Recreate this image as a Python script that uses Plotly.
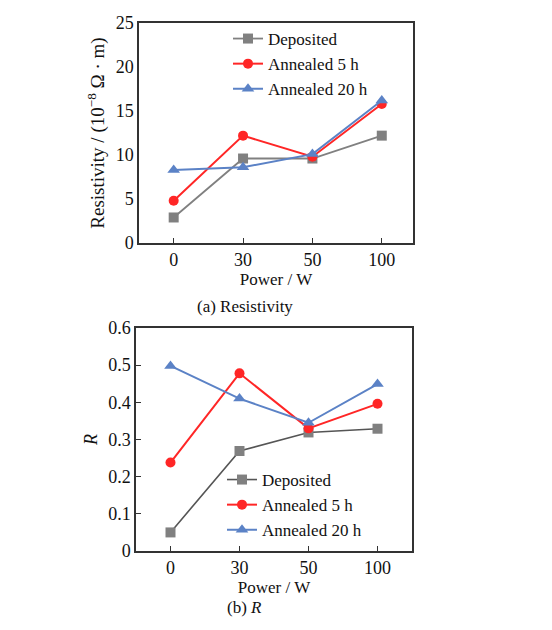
import plotly.graph_objects as go

power = ["0", "30", "50", "100"]
series_names = ["Deposited", "Annealed 5 h", "Annealed 20 h"]
resistivity_dep = [2.9, 9.6, 9.6, 12.2]
resistivity_5h = [4.8, 12.2, 9.8, 15.8]
resistivity_20h = [8.3, 8.6, 10.1, 16.2]
r_dep = [0.05, 0.269, 0.319, 0.329]
r_5h = [0.238, 0.478, 0.330, 0.396]
r_20h = [0.498, 0.410, 0.345, 0.449]
res_ticks = [0, 5, 10, 15, 20, 25]
r_ticks = [0, 0.1, 0.2, 0.3, 0.4, 0.5, 0.6]
r_tick_text = ["0", "0.1", "0.2", "0.3", "0.4", "0.5", "0.6"]

FONT = "Liberation Serif"
GRAY = "#808080"
RED = "#ff2626"
BLUE = "#5b82c6"

W, H = 552, 630
fig = go.Figure()

def add(y, name, color, sym, xa, ya, leg, line_color=None, lw=2):
    fig.add_trace(go.Scatter(
        x=power, y=y, name=name, mode="lines+markers",
        line=dict(color=line_color or color, width=lw),
        marker=dict(color=color, symbol=sym, size=10 if sym != "triangle-up" else 11),
        xaxis=xa, yaxis=ya, legend=leg))

add(resistivity_dep, series_names[0], GRAY, "square", "x", "y", "legend", lw=1.8)
add(resistivity_5h, series_names[1], RED, "circle", "x", "y", "legend")
add(resistivity_20h, series_names[2], BLUE, "triangle-up", "x", "y", "legend")
add(r_dep, series_names[0], GRAY, "square", "x2", "y2", "legend2", line_color="#555555", lw=1.6)
add(r_5h, series_names[1], RED, "circle", "x2", "y2", "legend2")
add(r_20h, series_names[2], BLUE, "triangle-up", "x2", "y2", "legend2")

def px(v):
    return v / W

def py(v):
    return 1 - v / H

axis_common = dict(showline=True, linecolor="#333333", linewidth=1.5, mirror=True,
                   showgrid=False, zeroline=False, ticks="inside",
                   tickcolor="#333333", automargin=False,
                   tickfont=dict(family=FONT, size=18, color="#111111"))

fig.update_layout(
    width=W, height=H,
    margin=dict(l=0, r=0, t=0, b=0, autoexpand=False),
    paper_bgcolor="white", plot_bgcolor="white",
    font=dict(family=FONT, color="#111111"),
    xaxis=dict(domain=[px(139), px(413)], anchor="y", type="category",
               range=[-0.5, 3.45], ticklen=5,
               title=dict(text="Power / W", font=dict(size=17), standoff=4),
               **axis_common),
    yaxis=dict(domain=[py(243), py(23)], anchor="x", range=[0, 25],
               tickvals=res_ticks, ticklen=0,
               title=dict(text="Resistivity / (10<sup>−8</sup> Ω · m)",
                          font=dict(size=19), standoff=6),
               **axis_common),
    xaxis2=dict(domain=[px(136), px(412)], anchor="y2", type="category",
                range=[-0.5, 3.5], ticklen=5,
                title=dict(text="Power / W", font=dict(size=17), standoff=1),
                **axis_common),
    yaxis2=dict(domain=[py(551), py(328)], anchor="x2", range=[0, 0.6],
                tickvals=r_ticks, ticktext=r_tick_text, ticklen=5,
                title=dict(text="<i>R</i>", font=dict(size=18), standoff=6),
                **axis_common),
    legend=dict(x=px(228), y=py(21), xanchor="left", yanchor="top",
                bgcolor="rgba(0,0,0,0)", font=dict(family=FONT, size=17),
                tracegroupgap=0, itemwidth=30),
    legend2=dict(x=px(222), y=py(462), xanchor="left", yanchor="top",
                 bgcolor="rgba(0,0,0,0)", font=dict(family=FONT, size=17),
                 tracegroupgap=0, itemwidth=30),
    annotations=[
        dict(text="(a) Resistivity", x=px(245), y=py(306), xref="paper", yref="paper",
             yanchor="middle", showarrow=False, font=dict(family=FONT, size=17)),
        dict(text="(b) <i>R</i>", x=px(245), y=py(607), xref="paper", yref="paper",
             yanchor="middle", showarrow=False, font=dict(family=FONT, size=17)),
    ],
)

fig.write_html("out.html")
